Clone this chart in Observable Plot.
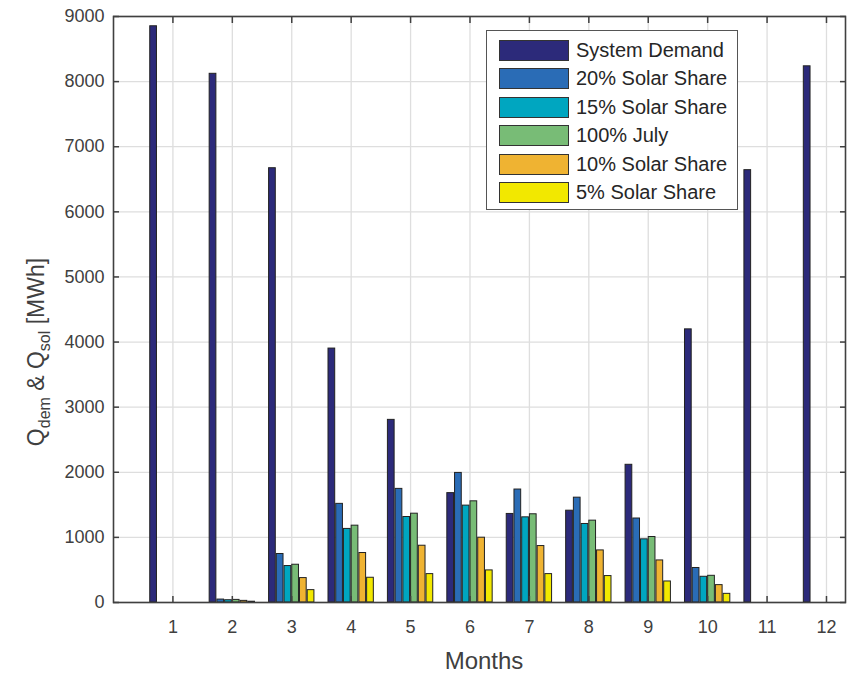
<!DOCTYPE html>
<html><head><meta charset="utf-8">
<script src="https://cdn.jsdelivr.net/npm/d3@7"></script>
<script src="https://cdn.jsdelivr.net/npm/@observablehq/plot@0.6"></script>
<style>
body{margin:0;background:#fff;font-family:"Liberation Sans",Arial,sans-serif;}
#wrap{position:relative;width:849px;height:675px;}
#legend{position:absolute;left:486px;top:30px;width:252px;height:180px;border:1px solid #555;background:#fff;box-sizing:border-box;}
.row{position:absolute;left:12px;height:22px;display:flex;align-items:center;}
.sw{width:70px;height:21px;border:1px solid #333;box-sizing:border-box;}
.lbl{margin-left:7px;font-size:20px;color:#262626;white-space:nowrap;}
</style></head><body><div id="wrap"></div>
<script>
const months = [1,2,3,4,5,6,7,8,9,10,11,12];
const seriesNames = ["System Demand","20% Solar Share","15% Solar Share","100% July","10% Solar Share","5% Solar Share"];
const seriesColors = ["#2c2a7a","#2a6cb6","#00a6c0","#78bc76","#efb332","#f2e800"];
const systemDemand = [8850, 8120, 6670, 3900, 2805, 1680, 1360, 1410, 2115, 4195, 6640, 8235];
const solar20 = [0, 45, 745, 1515, 1745, 1990, 1735, 1610, 1290, 530, 0, 0];
const solar15 = [0, 35, 560, 1130, 1313, 1488, 1308, 1206, 970, 395, 0, 0];
const july100 = [0, 40, 580, 1180, 1364, 1554, 1355, 1257, 1006, 410, 0, 0];
const solar10 = [0, 25, 375, 760, 872, 995, 867, 800, 646, 267, 0, 0];
const solar5  = [0, 12, 190, 380, 436, 493, 436, 406, 323, 133, 0, 0];
const yTicks = [0,1000,2000,3000,4000,5000,6000,7000,8000,9000];

const seriesValues = [systemDemand, solar20, solar15, july100, solar10, solar5];
const pitch = 0.13, bw = 0.113;
const rows = [];
seriesValues.forEach((vals, i) => vals.forEach((v, j) => rows.push({
  month: months[j], series: seriesNames[i], value: v, off: (i - 2.5) * pitch
})));

const ink = "#404040";
const chart = Plot.plot({
  width: 849, height: 675,
  marginLeft: 113, marginRight: 4, marginTop: 16, marginBottom: 73,
  x: {domain: [0, 12.32]},
  y: {domain: [0, 9000]},
  color: {domain: seriesNames, range: seriesColors},
  style: {fontFamily: "'Liberation Sans', Arial, sans-serif", fontSize: "18px", color: ink, background: "#fff"},
  marks: [
    Plot.gridX(months, {stroke: "#dedede", strokeOpacity: 1, strokeWidth: 1.3}),
    Plot.gridY(yTicks, {stroke: "#dedede", strokeOpacity: 1, strokeWidth: 1.3}),
    Plot.rectY(rows, {
      x1: d => d.month + d.off - bw / 2,
      x2: d => d.month + d.off + bw / 2,
      y1: 0, y2: "value", fill: "series", stroke: "#222", strokeWidth: 1
    }),
    Plot.frame({stroke: ink, strokeWidth: 1.6}),
    Plot.axisX(months, {anchor: "bottom", tickSize: 0, tickPadding: 18, label: null, fontSize: 18, fill: ink, tickFormat: d3.format("d")}),
    Plot.axisX(months, {anchor: "bottom", tickSize: -6, fill: "none", label: null, stroke: ink, strokeWidth: 1.5}),
    Plot.axisX(months, {anchor: "top", tickSize: -6, fill: "none", label: null, stroke: ink, strokeWidth: 1.5}),
    Plot.axisY(yTicks, {anchor: "left", tickSize: 0, tickPadding: 9, label: null, fontSize: 18, fill: ink, tickFormat: d3.format("d")}),
    Plot.axisY(yTicks, {anchor: "left", tickSize: -6, fill: "none", label: null, stroke: ink, strokeWidth: 1.5}),
    Plot.axisY(yTicks, {anchor: "right", tickSize: -6, fill: "none", label: null, stroke: ink, strokeWidth: 1.5})
  ]
});
const wrap = document.getElementById("wrap");
wrap.appendChild(chart);

const svg = d3.select(chart);
svg.append("text")
  .attr("x", 484).attr("y", 669)
  .attr("text-anchor", "middle")
  .attr("fill", ink)
  .style("font-size", "24px")
  .text("Months");

const yl = svg.append("text")
  .attr("transform", "translate(44,352) rotate(-90)")
  .attr("text-anchor", "middle")
  .attr("fill", ink)
  .style("font-size", "23px");
yl.append("tspan").text("Q");
yl.append("tspan").attr("dy", 6).style("font-size", "16px").text("dem");
yl.append("tspan").attr("dy", -6).text(" & Q");
yl.append("tspan").attr("dy", 6).style("font-size", "16px").text("sol");
yl.append("tspan").attr("dy", -6).text(" [MWh]");

// legend
const legend = document.createElement("div");
legend.id = "legend";
seriesNames.forEach((name, i) => {
  const row = document.createElement("div");
  row.className = "row";
  row.style.top = (8 + i * 28.5) + "px";
  const sw = document.createElement("div");
  sw.className = "sw";
  sw.style.background = seriesColors[i];
  const lb = document.createElement("span");
  lb.className = "lbl";
  lb.textContent = name;
  row.appendChild(sw); row.appendChild(lb);
  legend.appendChild(row);
});
wrap.appendChild(legend);
</script>
</body></html>
